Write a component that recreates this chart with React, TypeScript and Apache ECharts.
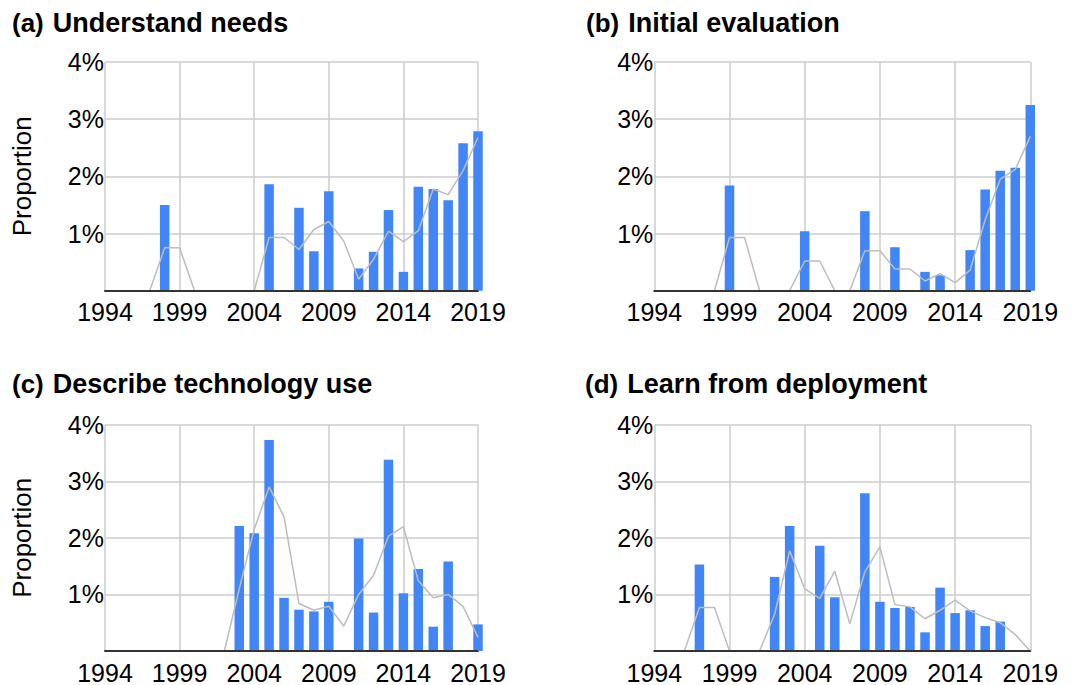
import React, { useEffect, useRef } from "react";
import * as echarts from "echarts";

const years = [
  "1994", "1995", "1996", "1997", "1998", "1999", "2000", "2001", "2002", "2003", "2004", "2005", "2006",
  "2007", "2008", "2009", "2010", "2011", "2012", "2013", "2014", "2015", "2016", "2017", "2018", "2019",
];

const panelLabels = ["(a)", "(b)", "(c)", "(d)"];
const panelTitles = ["Understand needs", "Initial evaluation", "Describe technology use", "Learn from deployment"];

// Proportion (%) per year, 1994..2019
const needsBars = [0, 0, 0, 0, 1.5, 0, 0, 0, 0, 0, 0, 1.86, 0, 1.45, 0.69, 1.74, 0, 0.39, 0.68, 1.41, 0.33, 1.82, 1.78, 1.58, 2.58, 2.79];
const needsTrend = [null, 0, 0, 0, 0.75, 0.75, 0, 0, 0, 0, 0, 0.93, 0.93, 0.72, 1.07, 1.21, 0.87, 0.2, 0.55, 1.04, 0.86, 1.05, 1.78, 1.68, 2.1, 2.68];

const evalBars = [0, 0, 0, 0, 0, 1.84, 0, 0, 0, 0, 1.04, 0, 0, 0, 1.39, 0, 0.76, 0, 0.33, 0.27, 0, 0.71, 1.77, 2.1, 2.15, 3.25];
const evalTrend = [null, 0, 0, 0, 0, 0.93, 0.93, 0, 0, 0, 0.52, 0.52, 0, 0, 0.7, 0.7, 0.38, 0.38, 0.17, 0.3, 0.14, 0.36, 1.24, 1.95, 2.12, 2.7];

const useBars = [0, 0, 0, 0, 0, 0, 0, 0, 0, 2.21, 2.08, 3.73, 0.94, 0.73, 0.7, 0.87, 0, 1.99, 0.68, 3.38, 1.02, 1.45, 0.43, 1.58, 0, 0.47];
const useTrend = [null, 0, 0, 0, 0, 0, 0, 0, 0, 1.1, 2.15, 2.9, 2.37, 0.84, 0.72, 0.79, 0.44, 1.0, 1.34, 2.03, 2.2, 1.24, 0.94, 1.0, 0.79, 0.24];

const deployBars = [0, 0, 0, 1.53, 0, 0, 0, 0, 1.31, 2.21, 0, 1.86, 0.95, 0, 2.79, 0.87, 0.76, 0.78, 0.33, 1.12, 0.67, 0.72, 0.44, 0.52, 0, 0];
const deployTrend = [null, 0, 0, 0.77, 0.77, 0, 0, 0, 0.65, 1.77, 1.1, 0.93, 1.41, 0.48, 1.4, 1.84, 0.82, 0.78, 0.57, 0.72, 0.9, 0.71, 0.59, 0.5, 0.29, 0];

const yTicks = [0, 1, 2, 3, 4];

const barSets = [needsBars, evalBars, useBars, deployBars];
const trendSets = [needsTrend, evalTrend, useTrend, deployTrend];

const FONT = "'Liberation Sans', Helvetica, Arial, sans-serif";
const BLUE = "#4285F4";
const GRIDC = "#cccccc";

export default function App() {
  const ref = useRef<HTMLDivElement>(null);

  useEffect(() => {
    if (!ref.current) return;
    const chart = echarts.init(ref.current, null, { renderer: "svg" });

    const grids = [
      { left: 105, right: 597, top: 62, bottom: 394.3 },
      { left: 654.3, right: 44.7, top: 62, bottom: 394.3 },
      { left: 105, right: 597, top: 424.7, bottom: 31 },
      { left: 654.3, right: 44.7, top: 424.7, bottom: 31 },
    ];
    const titlePos = [
      { left: 12, top: 9 },
      { left: 586, top: 9 },
      { left: 12, top: 370 },
      { left: 585, top: 370 },
    ];

    const option: any = {
      animation: false,
      backgroundColor: "#ffffff",
      title: panelTitles.map((t, i) => ({
        left: titlePos[i].left,
        top: titlePos[i].top,
        padding: 0,
        text: `{p|${panelLabels[i]}}{n|${t}}`,
        textStyle: {
          rich: {
            p: { fontSize: 26, fontWeight: "bold", color: "#000", fontFamily: FONT, padding: [0, 9, 0, 0] },
            n: { fontSize: 27, fontWeight: "bold", color: "#000", fontFamily: FONT },
          },
        },
      })),
      grid: grids,
      xAxis: grids.map((_, i) => ({
        type: "category",
        gridIndex: i,
        data: years,
        boundaryGap: false,
        axisLine: { show: true, lineStyle: { color: "#333", width: 2 } },
        axisTick: { show: false },
        axisLabel: {
          interval: 4,
          fontSize: 25,
          color: "#000",
          fontFamily: FONT,
          margin: 9,
        },
        splitLine: { show: true, interval: 4, lineStyle: { color: GRIDC, width: 1.5 } },
      })),
      yAxis: grids.map((_, i) => ({
        type: "value",
        gridIndex: i,
        min: yTicks[0],
        max: yTicks[yTicks.length - 1],
        interval: 1,
        name: i % 2 === 0 ? "Proportion" : "",
        nameLocation: "middle",
        nameRotate: 90,
        nameGap: 70,
        nameTextStyle: { fontSize: 26, color: "#000", fontFamily: FONT },
        axisLine: { show: false },
        axisTick: { show: false },
        axisLabel: {
          fontSize: 25,
          color: "#000",
          fontFamily: FONT,
          margin: 1,
          formatter: (v: number) => (v === 0 ? "" : `${v}%`),
        },
        splitLine: { show: true, lineStyle: { color: GRIDC, width: 1.5 } },
      })),
      series: [
        ...barSets.map((d, i) => ({
          type: "bar",
          xAxisIndex: i,
          yAxisIndex: i,
          data: d,
          barWidth: 9.5,
          clip: false,
          itemStyle: { color: BLUE },
          z: 2,
        })),
        ...trendSets.map((d, i) => ({
          type: "line",
          xAxisIndex: i,
          yAxisIndex: i,
          data: d,
          showSymbol: false,
          symbol: "none",
          lineStyle: { color: "#bdbdbd", width: 1.5 },
          z: 3,
          markLine: {
            silent: true,
            symbol: "none",
            label: { show: false },
            lineStyle: { color: "#333", width: 2, type: "solid" },
            data: [{ yAxis: 0 }],
            z: 6,
          },
        })),
      ],
    };

    chart.setOption(option);
    return () => chart.dispose();
  }, []);

  return (
    <div
      ref={ref}
      style={{ position: "fixed", left: 0, top: 0, width: 1075, height: 685, background: "#fff" }}
    />
  );
}
